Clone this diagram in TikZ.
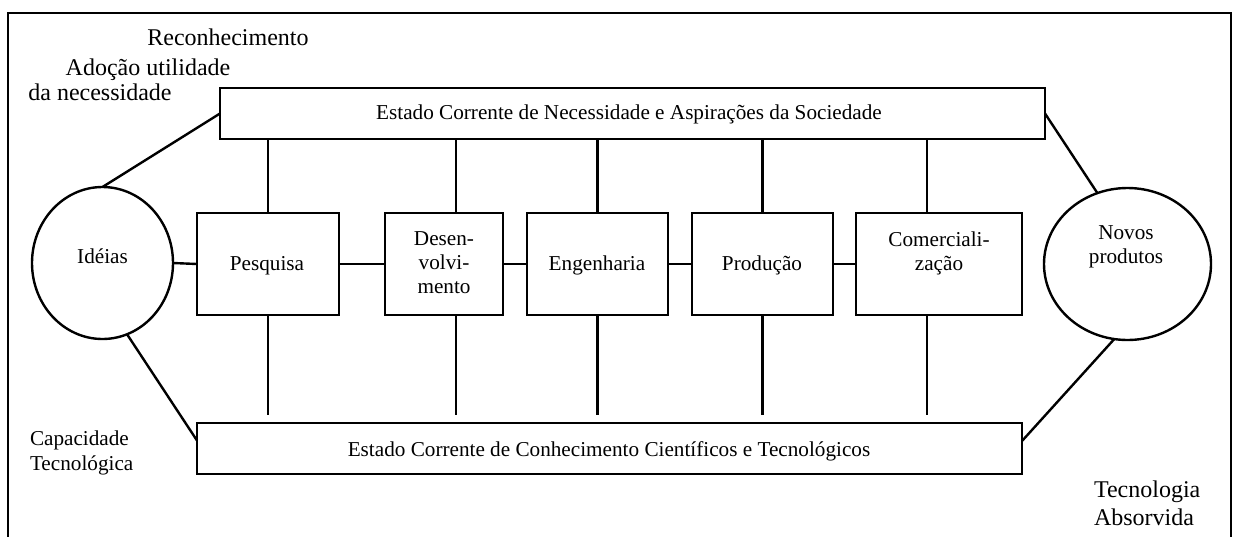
\documentclass[tikz,border=0pt]{standalone}
\usepackage{fontspec}
\setmainfont{Liberation Serif}
\usetikzlibrary{shapes.geometric}
\begin{document}
\begin{tikzpicture}[x=0.5pt,y=-0.5pt,
  line width=1.2pt,
  every node/.style={inner sep=0pt,outer sep=0pt},
  box/.style={draw,rectangle,line width=1.2pt},
  oval/.style={draw,ellipse,line width=1.2pt},
  txt/.style={font=\fontsize{10.6}{12}\selectfont,align=center,anchor=base},
  bigtxt/.style={font=\fontsize{12}{13}\selectfont,anchor=base},
  ltxt/.style={font=\fontsize{10.6}{12}\selectfont,anchor=base west},
  bltxt/.style={font=\fontsize{12}{13}\selectfont,anchor=base west}]
\useasboundingbox (0,0) rectangle (1237,536);
% frame
\draw (8,540) -- (8,13) -- (1231,13) -- (1231,540);
% big boxes
\node[box,minimum width=412.5pt,minimum height=25.5pt] (top) at (632.5,113.5) {};
\node[txt] (toptxt) at (629,119) {Estado Corrente de Necessidade e Aspirações da Sociedade};
\node[box,minimum width=412.5pt,minimum height=25.5pt] (bot) at (609.5,448.5) {};
\node[txt] (bottxt) at (609,456) {Estado Corrente de Conhecimento Científicos e Tecnológicos};
% circles
\node[oval,minimum width=70.5pt,minimum height=76pt] (idea) at (102.5,263) {};
\node[txt] (ideatxt) at (102.5,263) {Idéias};
\node[oval,minimum width=83.5pt,minimum height=76pt] (nov) at (1127.5,264) {};
\node[txt] (novtxt) at (1126,263) {Novos\\produtos};
% stage boxes
\node[box,minimum width=71pt,minimum height=51pt] (pes) at (268,264) {};
\node[txt] (pestxt) at (267,270) {Pesquisa};
\node[box,minimum width=59pt,minimum height=51pt] (des) at (444,264) {};
\node[txt] (destxt) at (444,293) {Desen-\\volvi-\\mento};
\node[box,minimum width=70.5pt,minimum height=51pt] (eng) at (597.5,264) {};
\node[txt] (engtxt) at (597,270) {Engenharia};
\node[box,minimum width=70.5pt,minimum height=51pt] (pro) at (762.5,264) {};
\node[txt] (protxt) at (762,270) {Produção};
\node[box,minimum width=83pt,minimum height=51pt] (com) at (939,264) {};
\node[txt] (comtxt) at (939,270) {Comerciali-\\zação};
% side labels
\node[bigtxt] (rec) at (228,45) {Reconhecimento};
\node[bigtxt] (ado) at (148,75) {Adoção utilidade};
\node[bigtxt] (nec) at (100,100) {da necessidade};
\node[ltxt] (cap) at (30,445) {Capacidade};
\node[ltxt] (cap2) at (30,470) {Tecnológica};
\node[bltxt] (tec) at (1094,497) {Tecnologia};
\node[bltxt] (tec2) at (1094,525) {Absorvida};
% coordinates for vertical links
\coordinate (x1) at (268,0);
\coordinate (x2) at (456,0);
\coordinate (x3) at (597.5,0);
\coordinate (x4) at (762.5,0);
\coordinate (x5) at (927,0);
\coordinate (lb) at (0,415);
% vertical links
\foreach \n/\c in {pes/x1,des/x2,eng/x3,pro/x4,com/x5}{
  \draw (top.south -| \c) -- (\n.north -| \c);
  \draw (\n.south -| \c) -- (\c |- lb);
}
% horizontal links
\draw (idea.east) -- (pes.west);
\draw (pes.east) -- (des.west);
\draw (des.east) -- (eng.west);
\draw (eng.east) -- (pro.west);
\draw (pro.east) -- (com.west);
% diagonals
\draw (top.west) -- (idea.north);
\draw (idea.-71) -- ([yshift=4pt]bot.west);
\draw (top.east) -- (nov.113);
\draw (nov.-100) -- ([yshift=3.75pt]bot.east);
\end{tikzpicture}
\end{document}
